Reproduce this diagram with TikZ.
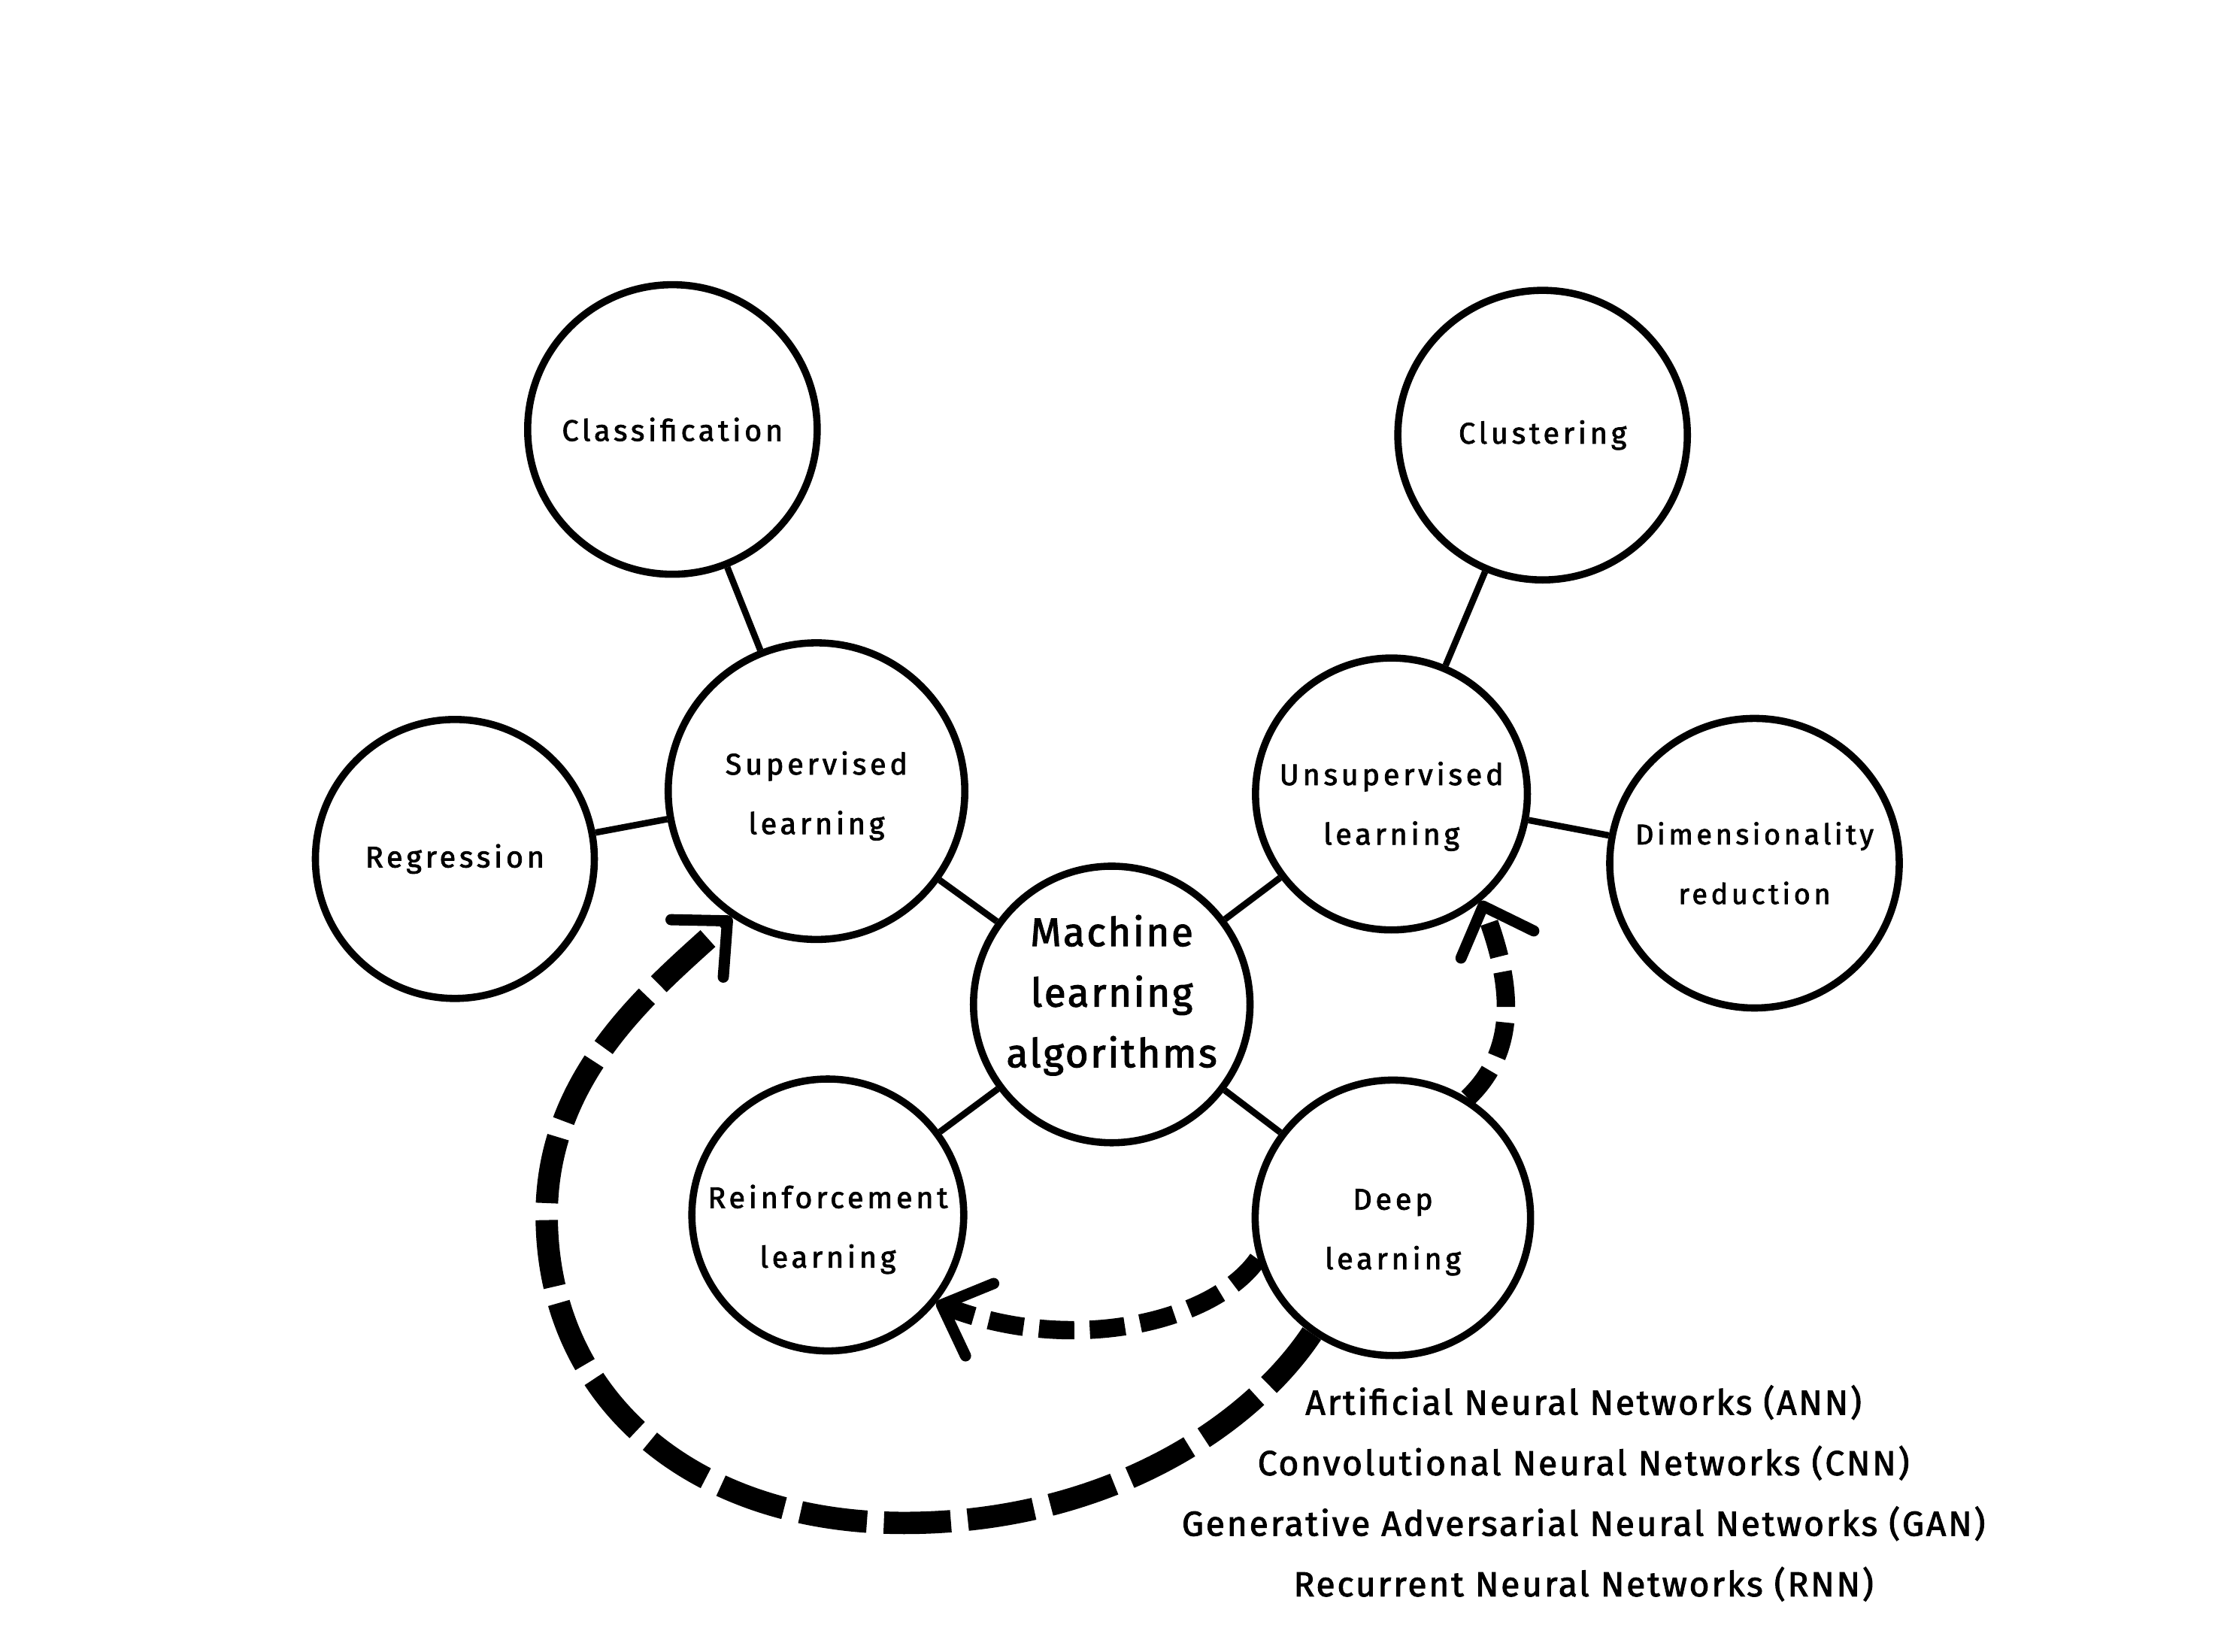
\documentclass[tikz,border=0pt]{standalone}
\usepackage{fontspec}
\setmainfont{Fira Sans}
\newfontfamily\circfont{Fira Sans}[LetterSpace=12, FakeBold=2]
\newfontfamily\mlfont{Fira Sans}[LetterSpace=5, FakeBold=2.2]
\newfontfamily\listfont{Fira Sans}[LetterSpace=6, FakeBold=2]
\usetikzlibrary{arrows.meta}

\begin{document}
\begin{tikzpicture}[x=0.02cm, y=-0.02cm,
  topic/.style={draw, circle, line width=2.9pt, inner sep=0pt, align=center, font=\circfont\fontsize{12}{24}\selectfont},
  lower/.style={text height=#1, text depth=3pt},
  link/.style={line width=2.6pt},
  barb/.style={-{Straight Barb[length=0.58cm, width=1.1cm, line width=4.5pt, round]}},
  bigjump/.style={barb, line width=9pt, dash pattern=on 0.95cm off 0.24cm},
  jump/.style={barb, line width=7.4pt, dash pattern=on 0.5cm off 0.22cm}]
  \useasboundingbox (0,0) rectangle (1568,1169);

  \node[topic, minimum size=3.9cm, text depth=10.8pt, font=\mlfont\fontsize{16}{24.4}\selectfont] (ml) at (787,711) {Machine\\learning\\algorithms};
  \node[topic, lower=37.6pt, minimum size=4.2cm] (sup) at (578,560) {Supervised\\learning};
  \node[topic, lower=43.8pt, minimum size=3.85cm] (unsup) at (985,562) {Unsupervised\\learning};
  \node[topic, lower=45.4pt, minimum size=3.85cm] (reinf) at (586,860) {Reinforcement\\learning};
  \node[topic, lower=44.4pt, minimum size=3.9cm] (deep) at (986,862) {Deep\\learning};
  \node[topic, minimum size=4.1cm] (classif) at (476,304) {Classification};
  \node[topic, minimum size=3.95cm] (regr) at (322,608) {Regression};
  \node[topic, minimum size=4.1cm] (clust) at (1092,308) {Clustering};
  \node[topic, minimum size=4.1cm, font=\circfont\fontsize{11.5}{24}\selectfont] (dimred) at (1242,611) {Dimensionality\\reduction};

  \node[align=center, font=\listfont\fontsize{14}{24.4}\selectfont] (nets) at (1121,1057)
    {Artificial Neural Networks (ANN)\\Convolutional Neural Networks (CNN)\\
     Generative Adversarial Neural Networks (GAN)\\Recurrent Neural Networks (RNN)};

  \draw[link] (classif) -- (sup);
  \draw[link] (regr) -- (sup);
  \draw[link] (sup) -- (ml);
  \draw[link] (ml) -- (unsup);
  \draw[link] (unsup) -- (clust);
  \draw[link] (unsup) -- (dimred);
  \draw[link] (ml) -- (reinf);
  \draw[link] (ml) -- (deep);

  \coordinate (loopbot) at (640,1078);
  \coordinate (loopleft) at (387,860);
  \draw[bigjump] (deep.-125) .. controls (883,1012) and (780,1078) .. (loopbot)
    .. controls (490,1078) and (387,990) .. (loopleft)
    .. controls (387,760) and (462,700) .. (sup.-124);
  \draw[jump] (deep.-163) .. controls (860,935) and (760,960) .. (reinf.-39);
  \draw[jump] (deep.58) .. controls (1078,740) and (1068,690) .. (unsup.-50);
\end{tikzpicture}
\end{document}
